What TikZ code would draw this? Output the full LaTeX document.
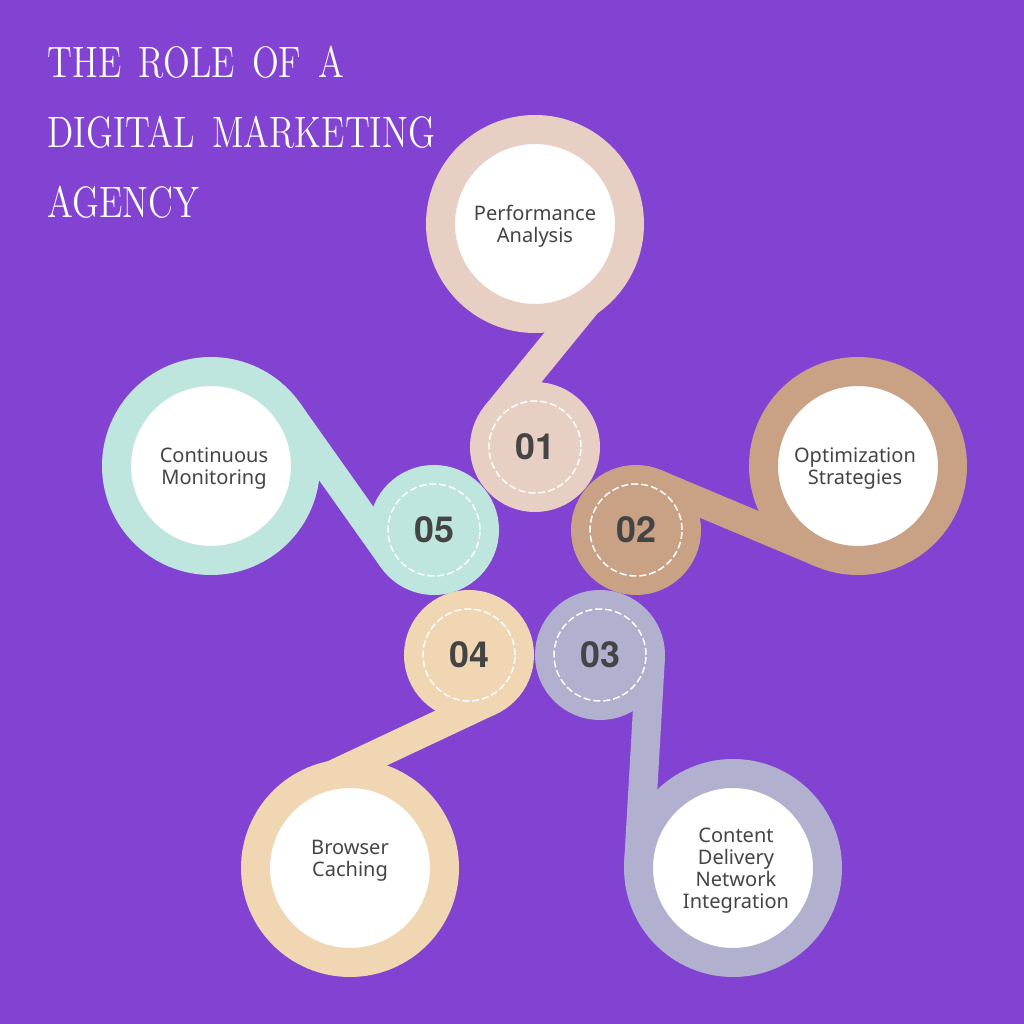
\documentclass[tikz,border=0pt]{standalone}
\usepackage{fontspec}
\setsansfont{Noto Sans}
\newfontfamily\titlefont[FakeStretch=0.80,WordSpace=1.5]{Latin Modern Roman}
\newfontfamily\numfont{TeX Gyre Heros}
\usetikzlibrary{positioning}
\pgfdeclarelayer{background}
\pgfdeclarelayer{foreground}
\pgfsetlayers{background,main,foreground}
\definecolor{bgpurple}{HTML}{8243D3}
\definecolor{col1}{HTML}{E8CFC3}
\definecolor{col2}{HTML}{C9A286}
\definecolor{col3}{HTML}{B1B0CF}
\definecolor{col4}{HTML}{F0D6B2}
\definecolor{col5}{HTML}{BEE6DE}
\definecolor{inkgray}{HTML}{444444}

\begin{document}
\begin{tikzpicture}[
						ringnode/.style={circle, draw=#1, line width=2.9mm, fill=white, minimum size=18.9mm, inner sep=0pt, outer sep=0pt},
						smallnode/.style={circle, draw=#1, line width=2.9mm, fill=#1, minimum size=10.1mm, inner sep=0pt, outer sep=0pt},
						dashnode/.style={circle, draw=white, line width=0.15mm, dash pattern=on 0.7mm off 0.3mm, minimum size=9.2mm, inner sep=0pt, text=inkgray, font=\numfont\bfseries\fontsize{10.2}{12}\selectfont},
						textnode/.style={align=center, inner sep=0pt, text=inkgray, font=\sffamily\fontsize{5.7}{6.25}\selectfont},
						band/.style={line width=2.9mm, draw=#1},
						titlenode/.style={anchor=west, inner sep=0pt, text=white, font=\titlefont\fontsize{12.5}{15}\selectfont},
						]
						\useasboundingbox (0,0) rectangle (10.24,10.24);

						%Title
						\node[titlenode]      (title1) 	at 	(0.47,9.62)           {THE ROLE OF A};
						\node[titlenode]      (title2) 	at 	(0.47,8.92)           {DIGITAL MARKETING};
						\node[titlenode]      (title3) 	at 	(0.47,8.22)           {AGENCY};

						%Nodes
						\node[ringnode=col1]      (ring1) 	at 	(5.35,8.00)           {};
						\node[ringnode=col2]      (ring2) 	at 	(8.58,5.58)           {};
						\node[ringnode=col3]      (ring3) 	at 	(7.33,1.56)           {};
						\node[ringnode=col4]      (ring4) 	at 	(3.50,1.56)           {};
						\node[ringnode=col5]      (ring5) 	at 	(2.11,5.58)           {};

						\node[textnode]      (text1) 	at 	(5.35,7.98)           {Performance\\Analysis};
						\node[textnode]      (text2) 	at 	(8.55,5.55)           {Optimization\\Strategies};
						\node[textnode]      (text3) 	at 	(7.36,1.53)           {Content\\Delivery\\Network\\Integration};
						\node[textnode]      (text4) 	at 	(3.50,1.63)           {Browser\\Caching};
						\node[textnode]      (text5) 	at 	(2.14,5.55)           {Continuous\\Monitoring};

						\node[smallnode=col1]     (small1) 	at 	(5.35,5.77)           {};
						\node[smallnode=col2]     (small2) 	at 	(6.36,4.94)           {};
						\node[smallnode=col3]     (small3) 	at 	(6.00,3.69)           {};
						\node[smallnode=col4]     (small4) 	at 	(4.69,3.69)           {};
						\node[smallnode=col5]     (small5) 	at 	(4.34,4.94)           {};

						\node[dashnode]      (num1) 	at 	(small1)           {01};
						\node[dashnode]      (num2) 	at 	(small2)           {02};
						\node[dashnode]      (num3) 	at 	(small3)           {03};
						\node[dashnode]      (num4) 	at 	(small4)           {04};
						\node[dashnode]      (num5) 	at 	(small5)           {05};

						\begin{pgfonlayer}{background}
						\fill[bgpurple] (0,0) rectangle (10.24,10.24);
						%Lines
						\draw[band=col1] (ring1.-56.45) -- (small1.141.25);
						\draw[band=col2] (ring2.247.2) -- (small2.67.2);
						\draw[band=col3] (ring3.176.7) -- (small3.-3.3);
						\draw[band=col4] (ring4.101.9) -- (small4.-64.9);
						\draw[band=col5] (ring5.35.3) -- (small5.215.3);
						\end{pgfonlayer}
					\end{tikzpicture}
\end{document}
